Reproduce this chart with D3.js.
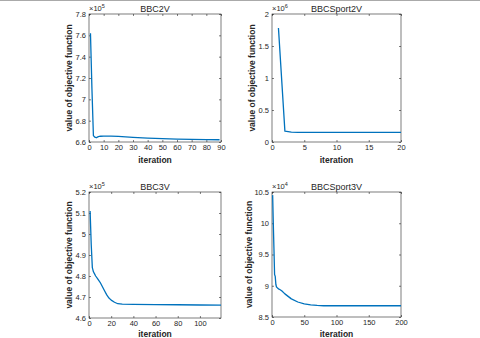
<!DOCTYPE html>
<html><head><meta charset="utf-8">
<script src="https://cdn.jsdelivr.net/npm/d3@7"></script>
<style>body{margin:0;background:#fff}svg{display:block}text{font-family:"Liberation Sans",Arial,sans-serif;fill:#262626}</style>
</head><body>
<svg id="c" width="480" height="338"></svg>
<script>
// BBC2V
const bbc2vX = [1,2,3,4,5,6,7,8,10,12,15,20,25,30,40,50,60,70,80,89];
const bbc2vY = [7.62,7.1,6.66,6.645,6.64,6.648,6.652,6.654,6.655,6.655,6.655,6.652,6.648,6.643,6.636,6.631,6.627,6.624,6.622,6.621];
// BBCSport2V
const sport2vX = [1,2,3,4,5,10,15,20];
const sport2vY = [1.78,0.17,0.155,0.15,0.15,0.15,0.15,0.15];
// BBC3V
const bbc3vX = [1,2,3,4,5,6,8,10,12,14,16,18,20,23,26,30,40,60,80,100,119];
const bbc3vY = [5.11,4.95,4.84,4.82,4.81,4.80,4.785,4.77,4.75,4.73,4.71,4.695,4.685,4.675,4.668,4.666,4.665,4.664,4.663,4.662,4.661];
// BBCSport3V
const sport3vX = [1,2,3,4,5,6,7,8,9,10,12,15,20,25,30,40,50,60,70,80,100,150,200];
const sport3vY = [10.45,10.0,9.6,9.18,9.15,9.02,8.98,8.97,8.96,8.95,8.94,8.92,8.87,8.83,8.79,8.74,8.71,8.695,8.685,8.68,8.68,8.68,8.68];

const titles = ["BBC2V","BBCSport2V","BBC3V","BBCSport3V"];
const exps = ["5","6","5","4"];
const xDomains = [[0,90],[0,20],[0,119],[0,200]];
const yDomains = [[6.6,7.8],[0,2],[4.6,5.2],[8.5,10.5]];
const xTicks = [[0,10,20,30,40,50,60,70,80,90],[0,5,10,15,20],[0,20,40,60,80,100],[0,50,100,150,200]];
const yTicks = [[6.6,6.8,7,7.2,7.4,7.6,7.8],[0,0.5,1,1.5,2],[4.6,4.7,4.8,4.9,5,5.1,5.2],[8.5,9,9.5,10,10.5]];
const series = [[bbc2vX,bbc2vY],[sport2vX,sport2vY],[bbc3vX,bbc3vY],[sport3vX,sport3vY]];

const boxes = [
  {l:89,r:221,t:14,b:142,ylab:72,xl:163},
  {l:272,r:401,t:14,b:142,ylab:255,xl:163},
  {l:89,r:221,t:192,b:318,ylab:72,xl:337},
  {l:272,r:401,t:192,b:317,ylab:252,xl:337}
];

const svg = d3.select("#c");
svg.append("line").attr("x1",0).attr("x2",480).attr("y1",0.5).attr("y2",0.5).attr("stroke","#aaa").attr("stroke-width",1);

boxes.forEach((bx,i)=>{
  const x = d3.scaleLinear().domain(xDomains[i]).range([bx.l,bx.r]);
  const y = d3.scaleLinear().domain(yDomains[i]).range([bx.b,bx.t]);
  const g = svg.append("g");
  const fmt = d3.format("~g");
  const tk = 2;
  const ax = g.append("g").attr("transform",`translate(0,${bx.b})`)
    .call(d3.axisBottom(x).tickValues(xTicks[i]).tickFormat(fmt).tickSizeInner(-tk).tickSizeOuter(0).tickPadding(3));
  const ay = g.append("g").attr("transform",`translate(${bx.l},0)`)
    .call(d3.axisLeft(y).tickValues(yTicks[i]).tickFormat(fmt).tickSizeInner(-tk).tickSizeOuter(0).tickPadding(3));
  const axT = g.append("g").attr("transform",`translate(0,${bx.t})`)
    .call(d3.axisTop(x).tickValues(xTicks[i]).tickFormat("").tickSizeInner(-tk).tickSizeOuter(0));
  const ayR = g.append("g").attr("transform",`translate(${bx.r},0)`)
    .call(d3.axisRight(y).tickValues(yTicks[i]).tickFormat("").tickSizeInner(-tk).tickSizeOuter(0));
  [ax,ay,axT,ayR].forEach(a=>{
    a.selectAll("path").remove();
    a.selectAll("line").attr("stroke","#262626").attr("stroke-width",0.6);
    a.selectAll("text").attr("font-size",7.5).attr("font-family","Liberation Sans, Arial, sans-serif").attr("fill","#262626");
  });
  g.append("rect").attr("x",bx.l).attr("y",bx.t).attr("width",bx.r-bx.l).attr("height",bx.b-bx.t)
    .attr("fill","none").attr("stroke","#262626").attr("stroke-width",0.6);
  const [xs,ys] = series[i];
  const line = d3.line().x(d=>x(d[0])).y(d=>y(d[1]));
  g.append("path").datum(xs.map((v,k)=>[v,ys[k]])).attr("d",line)
    .attr("fill","none").attr("stroke","#0072BD").attr("stroke-width",1.3).attr("stroke-linejoin","round");
  // title
  g.append("text").attr("x",(bx.l+bx.r)/2).attr("y",bx.t-2).attr("text-anchor","middle").attr("font-size",9).text(titles[i]);
  // exponent
  const e = g.append("text").attr("x",bx.l).attr("y",bx.t-3).attr("font-size",7.5);
  e.append("tspan").text("\u00d710");
  e.append("tspan").attr("dy",-3).attr("font-size",5.5).text(exps[i]);
  // xlabel
  g.append("text").attr("x",(bx.l+bx.r)/2).attr("y",bx.xl).attr("text-anchor","middle").attr("font-size",8.5).attr("font-weight","bold").text("iteration");
  // ylabel
  g.append("text").attr("transform",`translate(${bx.ylab},${(bx.t+bx.b)/2}) rotate(-90)`).attr("text-anchor","middle")
    .attr("font-size",8.5).attr("font-weight","bold").text("value of objective function");
});
</script>
</body></html>
